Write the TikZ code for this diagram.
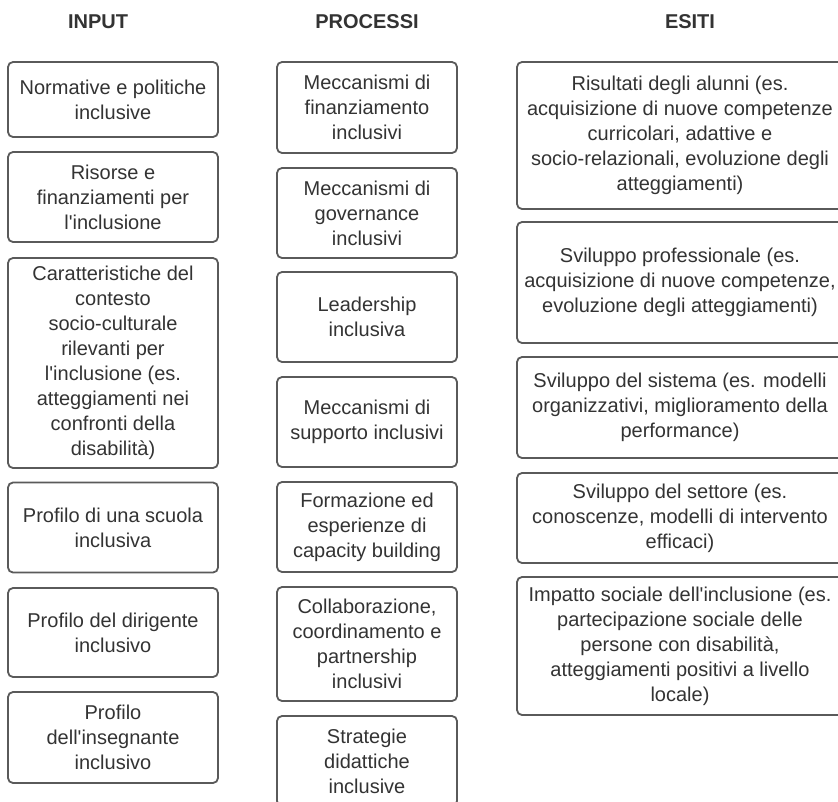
\documentclass[tikz,border=0pt]{standalone}
\usepackage{fontspec}
\newfontfamily\labelfont{Liberation Sans}
\usepackage{xcolor}
\definecolor{frame-gray}{HTML}{5A5A5A}
\definecolor{text-gray}{HTML}{333333}
\usepackage{tikz}

\tikzset{
  box/.style={draw=frame-gray, line width=1.8pt, rounded corners=5pt,
    align=center, text=text-gray, inner sep=0pt,
    font=\labelfont\fontsize{20}{25}\selectfont},
  heading/.style={text=text-gray, inner sep=0pt,
    font=\labelfont\bfseries\fontsize{20}{25}\selectfont}
}

\begin{document}
\begin{tikzpicture}[x=1pt, y=-1pt]

    % Background
    \useasboundingbox (0,0) rectangle (838,801);
    \fill[white] (0,0) rectangle (838,801);

% Titoli delle colonne
\node[heading] (hin) at (98,22) {INPUT};
\node[heading] (hpr) at (367,22) {PROCESSI};
\node[heading] (hes) at (690,22) {ESITI};

% Colonna input
\node[box, minimum width=210, minimum height=75] (in1) at (113,99.5)
  {Normative e politiche\\inclusive};
\node[box, minimum width=210, minimum height=90] (in2) at (113,197)
  {Risorse e\\finanziamenti per\\l'inclusione};
\node[box, minimum width=210, minimum height=210] (in3) at (113,363)
  {Caratteristiche del\\contesto\\socio-culturale\\rilevanti per\\l'inclusione (es.\\atteggiamenti nei\\confronti della\\disabilità)};
\node[box, minimum width=210, minimum height=90] (in4) at (113,527.5)
  {Profilo di una scuola\\inclusiva};
\node[box, minimum width=210, minimum height=89] (in5) at (113,632.5)
  {Profilo del dirigente\\inclusivo};
\node[box, minimum width=210, minimum height=91] (in6) at (113,737.5)
  {Profilo\\dell'insegnante\\inclusivo};

% Colonna processi
\node[box, minimum width=180, minimum height=91] (pr1) at (367,107.5)
  {Meccanismi di\\finanziamento\\inclusivi};
\node[box, minimum width=180, minimum height=90] (pr2) at (367,213)
  {Meccanismi di\\governance\\inclusivi};
\node[box, minimum width=180, minimum height=90] (pr3) at (367,317)
  {Leadership\\inclusiva};
\node[box, minimum width=180, minimum height=90] (pr4) at (367,422)
  {Meccanismi di\\supporto inclusivi};
\node[box, minimum width=180, minimum height=90] (pr5) at (367,527)
  {Formazione ed\\esperienze di\\capacity building};
\node[box, minimum width=180, minimum height=114] (pr6) at (367,644)
  {Collaborazione,\\coordinamento e\\partnership\\inclusivi};
\node[box, minimum width=180, minimum height=90] (pr7) at (367,761)
  {Strategie\\didattiche\\inclusive};

% Colonna esiti
\node[box, minimum width=326, minimum height=147] (es1) at (680,135.5)
  {Risultati degli alunni (es.\\acquisizione di nuove competenze\\curricolari, adattive e\\socio-relazionali, evoluzione degli\\atteggiamenti)};
\node[box, minimum width=326, minimum height=121] (es2) at (680,282.5)
  {Sviluppo professionale (es.\\acquisizione di nuove competenze,\\evoluzione degli atteggiamenti)};
\node[box, minimum width=326, minimum height=101] (es3) at (680,407.5)
  {Sviluppo del sistema (es. modelli\\organizzativi, miglioramento della\\performance)};
\node[box, minimum width=326, minimum height=90] (es4) at (680,518)
  {Sviluppo del settore (es.\\conoscenze, modelli di intervento\\efficaci)};
\node[box, minimum width=326, minimum height=138] (es5) at (680,646)
  {Impatto sociale dell'inclusione (es.\\partecipazione sociale delle\\persone con disabilità,\\atteggiamenti positivi a livello\\locale)};

\end{tikzpicture}
\end{document}
